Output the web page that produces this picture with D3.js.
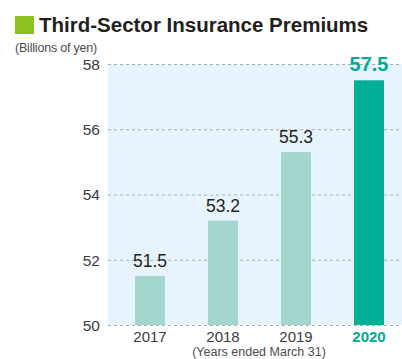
<!DOCTYPE html>
<html><head><meta charset="utf-8">
<script src="https://cdn.jsdelivr.net/npm/d3@7"></script>
<style>body{margin:0;background:#fff}svg{display:block}</style>
</head><body>
<script>
const years = ["2017","2018","2019","2020"];
const premiums = [51.5, 53.2, 55.3, 57.5];
const yTicks = [50, 52, 54, 56, 58];
const title = "Third-Sector Insurance Premiums";
const unitLabel = "(Billions of yen)";
const xCaption = "(Years ended March 31)";

const W = 402, H = 359;
const font = "'Liberation Sans', Arial, sans-serif";
const svg = d3.select("body").append("svg").attr("width", W).attr("height", H);

const plot = {left: 108, right: 402, top: 64, bottom: 325};
const y = d3.scaleLinear().domain([50, 58]).range([plot.bottom, plot.top]);
const x = d3.scaleBand().domain(years).range([135, 384]).paddingInner(43/73).paddingOuter(0);

// title
svg.append("rect").attr("x", 15).attr("y", 16).attr("width", 19).attr("height", 18).attr("fill", "#8cc220");
svg.append("text").attr("x", 39).attr("y", 31.5).attr("font-family", font).attr("font-weight", "bold")
  .attr("font-size", 20.5).attr("fill", "#231f20").text(title);
svg.append("text").attr("x", 15).attr("y", 52).attr("font-family", font).attr("font-size", 12.5)
  .attr("fill", "#4d4d4d").attr("letter-spacing", -0.2).text(unitLabel);

// background
svg.append("rect").attr("x", plot.left).attr("y", plot.top).attr("width", plot.right - plot.left)
  .attr("height", plot.bottom - plot.top).attr("fill", "#e8f4fd");

// y axis with grid
const yAxis = d3.axisLeft(y).tickValues(yTicks).tickSize(-(plot.right - plot.left - 2)).tickPadding(8).tickFormat(d3.format("d"));
const gy = svg.append("g").attr("transform", `translate(${plot.left},0)`).call(yAxis);
gy.select(".domain").remove();
gy.selectAll(".tick line").attr("stroke", "#a8adb2").attr("stroke-dasharray", "3,3");
gy.selectAll(".tick text").attr("font-family", font).attr("font-size", 15.5).attr("fill", "#3c3c3c").attr("x", -8).attr("dy", "0.35em");

// bars
svg.append("g").selectAll("rect").data(years).join("rect")
  .attr("x", d => x(d)).attr("width", x.bandwidth())
  .attr("y", (d, i) => y(premiums[i])).attr("height", (d, i) => y(50) - y(premiums[i]))
  .attr("fill", (d, i) => i === years.length - 1 ? "#00ad97" : "#a3d6cd");

// value labels
svg.append("g").selectAll("text").data(years).join("text")
  .attr("x", d => x(d) + x.bandwidth() / 2)
  .attr("y", (d, i) => y(premiums[i]) - 9)
  .attr("text-anchor", "middle").attr("font-family", font)
  .attr("font-size", (d, i) => i === years.length - 1 ? 20 : 17.5)
  .attr("font-weight", (d, i) => i === years.length - 1 ? "bold" : "normal")
  .attr("fill", (d, i) => i === years.length - 1 ? "#00a994" : "#231f20")
  .text((d, i) => premiums[i].toFixed(1));

// x axis
const xAxis = d3.axisBottom(x).tickSize(0).tickPadding(6);
const gx = svg.append("g").attr("transform", `translate(0,${plot.bottom})`).call(xAxis);
gx.select(".domain").remove();
gx.selectAll(".tick text").attr("font-family", font).attr("font-size", 15)
  .attr("fill", d => d === years[years.length - 1] ? "#00a994" : "#3c3c3c")
  .attr("font-weight", d => d === years[years.length - 1] ? "bold" : "normal");

svg.append("text").attr("x", 259).attr("y", 356).attr("text-anchor", "middle").attr("font-family", font)
  .attr("font-size", 12.5).attr("fill", "#4d4d4d").attr("letter-spacing", 0).text(xCaption);
</script>
</body></html>
